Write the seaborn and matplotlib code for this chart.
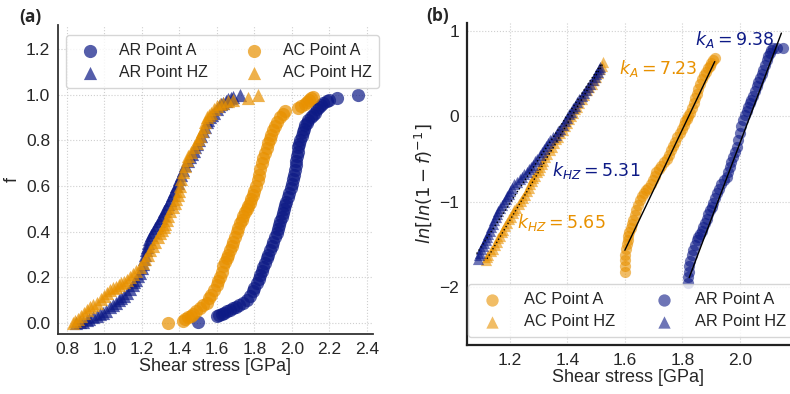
import numpy as np
import pandas as pd
import matplotlib
matplotlib.use("Agg")
import matplotlib.pyplot as plt
import seaborn as sns

# ---- panel (a): cumulative fraction f vs shear stress ----
ar_a_x = [1.499, 1.598, 1.61, 1.625, 1.64, 1.655, 1.67, 1.687, 1.703, 1.72, 1.74, 1.758,
          1.775, 1.79, 1.80, 1.812, 1.822, 1.83, 1.84, 1.847, 1.856, 1.865, 1.874, 1.883,
          1.892, 1.90, 1.91, 1.918, 1.925, 1.93, 1.938, 1.945, 1.952, 1.958, 1.965, 1.971,
          1.978, 1.985, 1.993, 2.0, 2.006, 2.012, 2.016, 2.02, 2.023, 2.025, 2.03, 2.035,
          2.04, 2.045, 2.052, 2.058, 2.065, 2.07, 2.078, 2.088, 2.10, 2.11, 2.123, 2.135,
          2.145, 2.155, 2.167, 2.185, 2.20, 2.238, 2.354]
ar_a_f = [0.003, 0.030, 0.035, 0.040, 0.045, 0.052, 0.058, 0.065, 0.072, 0.080, 0.090, 0.100,
          0.118, 0.140, 0.155, 0.174, 0.192, 0.21, 0.23, 0.247, 0.265, 0.285, 0.30, 0.32,
          0.338, 0.355, 0.375, 0.393, 0.41, 0.43, 0.448, 0.466, 0.483, 0.50, 0.515, 0.53,
          0.55, 0.57, 0.59, 0.61, 0.63, 0.65, 0.67, 0.69, 0.71, 0.73, 0.75, 0.77,
          0.785, 0.80, 0.82, 0.835, 0.85, 0.865, 0.876, 0.89, 0.90, 0.91, 0.92, 0.935,
          0.945, 0.955, 0.964, 0.972, 0.978, 0.985, 0.996]

ar_hz_x = [0.85, 0.87, 0.887, 0.905, 0.92, 0.94, 0.96, 0.975, 0.994, 1.01, 1.03, 1.045,
           1.06, 1.075, 1.09, 1.105, 1.118, 1.135, 1.15, 1.16, 1.17, 1.18, 1.19, 1.198,
           1.205, 1.21, 1.215, 1.22, 1.225, 1.232, 1.24, 1.25, 1.26, 1.27, 1.28, 1.29,
           1.30, 1.31, 1.32, 1.33, 1.34, 1.35, 1.36, 1.37, 1.38, 1.39, 1.40, 1.41,
           1.42, 1.432, 1.445, 1.455, 1.465, 1.475, 1.485, 1.495, 1.505, 1.515, 1.525, 1.535,
           1.545, 1.555, 1.565, 1.575, 1.585, 1.598, 1.61, 1.62, 1.634, 1.647, 1.66, 1.675,
           1.687, 1.723]
ar_hz_f = [0.0, 0.003, 0.005, 0.012, 0.02, 0.025, 0.03, 0.038, 0.045, 0.055, 0.07, 0.08,
           0.09, 0.10, 0.11, 0.12, 0.13, 0.148, 0.165, 0.178, 0.19, 0.205, 0.22, 0.24,
           0.26, 0.28, 0.30, 0.318, 0.335, 0.352, 0.37, 0.385, 0.40, 0.415, 0.43, 0.445,
           0.46, 0.475, 0.49, 0.505, 0.52, 0.54, 0.56, 0.58, 0.60, 0.615, 0.63, 0.65,
           0.67, 0.69, 0.71, 0.725, 0.74, 0.755, 0.77, 0.785, 0.80, 0.82, 0.84, 0.86,
           0.88, 0.89, 0.90, 0.91, 0.92, 0.935, 0.95, 0.957, 0.965, 0.972, 0.98, 0.985,
           0.99, 1.0]

ac_a_x = [1.340, 1.417, 1.43, 1.445, 1.46, 1.474, 1.49, 1.51, 1.528, 1.545, 1.558, 1.57,
          1.585, 1.598, 1.607, 1.615, 1.625, 1.634, 1.643, 1.652, 1.66, 1.67, 1.678, 1.687,
          1.696, 1.705, 1.714, 1.723, 1.732, 1.74, 1.75, 1.758, 1.767, 1.776, 1.783, 1.79,
          1.80, 1.81, 1.818, 1.825, 1.832, 1.838, 1.846, 1.855, 1.865, 1.874, 1.882, 1.89,
          1.90, 1.909, 1.92, 1.935, 1.95, 1.963, 2.034, 2.05, 2.069, 2.08, 2.09, 2.10, 2.114]
ac_a_f = [0.0, 0.01, 0.018, 0.025, 0.033, 0.042, 0.052, 0.065, 0.078, 0.09, 0.108, 0.125,
          0.145, 0.165, 0.183, 0.2, 0.225, 0.25, 0.268, 0.285, 0.30, 0.32, 0.338, 0.355,
          0.378, 0.40, 0.418, 0.437, 0.453, 0.47, 0.485, 0.50, 0.512, 0.525, 0.542, 0.56,
          0.58, 0.60, 0.625, 0.65, 0.675, 0.70, 0.722, 0.745, 0.767, 0.788, 0.806, 0.825,
          0.843, 0.861, 0.88, 0.90, 0.915, 0.927, 0.94, 0.95, 0.96, 0.968, 0.975, 0.983, 0.99]

ac_hz_x = [0.834, 0.845, 0.86, 0.875, 0.89, 0.905, 0.923, 0.94, 0.96, 0.98, 1.0, 1.015,
           1.03, 1.045, 1.06, 1.075, 1.09, 1.105, 1.118, 1.135, 1.15, 1.17, 1.19, 1.203,
           1.215, 1.23, 1.243, 1.257, 1.27, 1.283, 1.296, 1.305, 1.315, 1.323, 1.332, 1.34,
           1.35, 1.363, 1.376, 1.383, 1.39, 1.397, 1.403, 1.41, 1.42, 1.43, 1.438, 1.448,
           1.46, 1.475, 1.492, 1.50, 1.51, 1.52, 1.53, 1.538, 1.545, 1.557, 1.57, 1.585,
           1.60, 1.617, 1.634, 1.66, 1.687, 1.767, 1.82]
ac_hz_f = [0.0, 0.01, 0.02, 0.032, 0.045, 0.058, 0.07, 0.08, 0.09, 0.105, 0.12, 0.133,
           0.145, 0.152, 0.16, 0.168, 0.175, 0.182, 0.19, 0.202, 0.215, 0.23, 0.247, 0.263,
           0.28, 0.30, 0.32, 0.338, 0.355, 0.375, 0.393, 0.407, 0.42, 0.435, 0.45, 0.47,
           0.49, 0.507, 0.525, 0.542, 0.56, 0.58, 0.60, 0.63, 0.66, 0.688, 0.715, 0.733,
           0.75, 0.77, 0.788, 0.805, 0.82, 0.84, 0.86, 0.88, 0.90, 0.91, 0.92, 0.935,
           0.95, 0.958, 0.965, 0.972, 0.978, 0.985, 0.996]

# ---- panel (b): ln[ln(1-f)^-1] vs shear stress ----
b_ac_a_x = [1.60, 1.60, 1.601, 1.60, 1.603, 1.607, 1.61, 1.612, 1.616, 1.62, 1.625, 1.629,
            1.634, 1.64, 1.646, 1.652, 1.658, 1.665, 1.672, 1.68, 1.69, 1.698, 1.705, 1.71,
            1.718, 1.725, 1.735, 1.745, 1.752, 1.76, 1.768, 1.775, 1.783, 1.791, 1.798, 1.805,
            1.81, 1.815, 1.82, 1.826, 1.833, 1.84, 1.845, 1.85, 1.855, 1.861, 1.868, 1.875,
            1.882, 1.89, 1.895, 1.90, 1.906, 1.913]
b_ac_a_y = [-1.82, -1.75, -1.68, -1.62, -1.56, -1.50, -1.45, -1.40, -1.36, -1.31, -1.26, -1.22,
            -1.16, -1.10, -1.04, -0.985, -0.94, -0.90, -0.87, -0.84, -0.80, -0.75, -0.70, -0.66,
            -0.62, -0.58, -0.54, -0.50, -0.45, -0.40, -0.35, -0.30, -0.25, -0.20, -0.15, -0.10,
            -0.06, -0.03, 0.0, 0.03, 0.09, 0.15, 0.21, 0.26, 0.32, 0.38, 0.43, 0.48,
            0.52, 0.56, 0.59, 0.62, 0.65, 0.676]

b_ac_hz_x = [1.115, 1.12, 1.125, 1.133, 1.142, 1.148, 1.155, 1.16, 1.165, 1.171, 1.177, 1.183,
             1.19, 1.197, 1.205, 1.21, 1.215, 1.222, 1.23, 1.238, 1.246, 1.253, 1.26, 1.265,
             1.27, 1.276, 1.281, 1.288, 1.295, 1.30, 1.306, 1.311, 1.316, 1.323, 1.33, 1.338,
             1.345, 1.352, 1.36, 1.368, 1.375, 1.383, 1.39, 1.398, 1.405, 1.412, 1.42, 1.426,
             1.432, 1.44, 1.45, 1.458, 1.467, 1.476, 1.485, 1.492, 1.50, 1.507, 1.515, 1.52,
             1.525]
b_ac_hz_y = [-1.68, -1.65, -1.62, -1.58, -1.55, -1.51, -1.47, -1.43, -1.40, -1.36, -1.33, -1.29,
             -1.25, -1.21, -1.18, -1.14, -1.10, -1.07, -1.03, -0.99, -0.96, -0.92, -0.88, -0.84,
             -0.80, -0.76, -0.73, -0.70, -0.66, -0.63, -0.60, -0.56, -0.53, -0.48, -0.44, -0.40,
             -0.36, -0.31, -0.27, -0.24, -0.20, -0.16, -0.12, -0.08, -0.04, 0.0, 0.04, 0.08,
             0.11, 0.15, 0.20, 0.25, 0.30, 0.34, 0.38, 0.42, 0.46, 0.50, 0.55, 0.59,
             0.637]

b_ar_a_x = [1.82, 1.82, 1.822, 1.825, 1.828, 1.833, 1.838, 1.844, 1.85, 1.856, 1.862, 1.867,
            1.872, 1.878, 1.885, 1.891, 1.897, 1.902, 1.907, 1.913, 1.92, 1.927, 1.935, 1.945,
            1.954, 1.96, 1.965, 1.971, 1.977, 1.984, 1.99, 1.995, 2.0, 2.006, 2.011, 2.018,
            2.025, 2.03, 2.035, 2.04, 2.046, 2.053, 2.06, 2.065, 2.07, 2.076, 2.081, 2.088,
            2.095, 2.10, 2.105, 2.11, 2.116, 2.13, 2.151]
b_ar_a_y = [-1.95, -1.88, -1.82, -1.76, -1.70, -1.63, -1.57, -1.51, -1.45, -1.41, -1.38, -1.34,
            -1.30, -1.25, -1.20, -1.15, -1.10, -1.06, -1.02, -0.96, -0.90, -0.85, -0.80, -0.75,
            -0.71, -0.65, -0.60, -0.54, -0.48, -0.42, -0.36, -0.28, -0.20, -0.12, -0.05, 0.01,
            0.06, 0.11, 0.15, 0.19, 0.23, 0.29, 0.35, 0.40, 0.44, 0.49, 0.54, 0.60,
            0.65, 0.70, 0.74, 0.77, 0.80, 0.80, 0.79]

b_ar_hz_x = [1.09, 1.093, 1.096, 1.10, 1.105, 1.11, 1.115, 1.12, 1.125, 1.13, 1.135, 1.14,
             1.145, 1.15, 1.155, 1.16, 1.165, 1.172, 1.18, 1.185, 1.19, 1.195, 1.20, 1.207,
             1.215, 1.225, 1.235, 1.243, 1.25, 1.258, 1.265, 1.273, 1.281, 1.288, 1.295, 1.303,
             1.31, 1.318, 1.325, 1.333, 1.34, 1.35, 1.36, 1.368, 1.375, 1.383, 1.39, 1.398,
             1.405, 1.412, 1.42, 1.428, 1.435, 1.442, 1.45, 1.458, 1.465, 1.472, 1.48, 1.488,
             1.495, 1.50, 1.505, 1.509, 1.513]
b_ar_hz_y = [-1.67, -1.63, -1.60, -1.56, -1.52, -1.48, -1.45, -1.41, -1.38, -1.34, -1.30, -1.26,
             -1.22, -1.18, -1.15, -1.11, -1.08, -1.04, -1.00, -0.97, -0.94, -0.91, -0.88, -0.84,
             -0.80, -0.77, -0.74, -0.71, -0.68, -0.65, -0.62, -0.60, -0.57, -0.53, -0.50, -0.46,
             -0.42, -0.38, -0.35, -0.31, -0.28, -0.25, -0.22, -0.18, -0.15, -0.10, -0.06, -0.02,
             0.02, 0.05, 0.09, 0.12, 0.16, 0.20, 0.24, 0.27, 0.31, 0.34, 0.38, 0.42,
             0.46, 0.49, 0.52, 0.55, 0.578]

# fitted lines (end points)
fit_ac_a_x = [1.60, 1.913]
fit_ac_a_y = [-1.57, 0.637]
fit_ar_a_x = [1.824, 2.145]
fit_ar_a_y = [-1.89, 0.97]
fit_ar_hz_x = [1.084, 1.52]
fit_ar_hz_y = [-1.61, 0.62]
fit_ac_hz_x = [1.12, 1.525]
fit_ac_hz_y = [-1.67, 0.62]

NAVY = "#0d1a86"
ORANGE = "#e89100"

sns.set_style("whitegrid", {"grid.linestyle": ":", "grid.color": "#cfcfcf",
                            "axes.edgecolor": "#333333"})
plt.rcParams["font.family"] = ["Liberation Sans", "DejaVu Sans"]

fig = plt.figure(figsize=(7.9, 3.94), dpi=100)
ax1 = fig.add_axes([0.0734, 0.152, 0.3986, 0.785])
ax2 = fig.add_axes([0.591, 0.124, 0.409, 0.818])

# (a)
kw_a = dict(s=90, alpha=0.7, linewidth=0, ax=ax1)
sns.scatterplot(x=ar_a_x, y=ar_a_f, color=NAVY, marker="o", label="AR Point A", **kw_a)
sns.scatterplot(x=ar_hz_x, y=ar_hz_f, color=NAVY, marker="^", label="AR Point HZ", **kw_a)
sns.scatterplot(x=ac_a_x, y=ac_a_f, color=ORANGE, marker="o", label="AC Point A", **kw_a)
sns.scatterplot(x=ac_hz_x, y=ac_hz_f, color=ORANGE, marker="^", label="AC Point HZ", **kw_a)
ax1.set_xlim(0.752, 2.432)
ax1.set_ylim(-0.048, 1.305)
ax1.set_xticks(np.arange(0.8, 2.41, 0.2))
ax1.set_yticks(np.arange(0.0, 1.21, 0.2))
ax1.set_xlabel("Shear stress [GPa]", fontsize=13, labelpad=1)
ax1.set_ylabel("f", fontsize=13, labelpad=4)
ax1.tick_params(labelsize=12.5, pad=2)
ax1.legend(loc="upper left", bbox_to_anchor=(0.025, 0.968), borderaxespad=0,
           ncol=2, fontsize=11.5, frameon=True, edgecolor="#cccccc", borderpad=0.5,
           handletextpad=0.8, columnspacing=1.9, labelspacing=0.45)
sns.despine(ax=ax1)
for sp in ax1.spines.values():
    sp.set_linewidth(1.3)

# (b)
kw_b = dict(s=65, alpha=0.6, linewidth=0, ax=ax2)
sns.scatterplot(x=b_ac_a_x, y=b_ac_a_y, color=ORANGE, marker="o", label="AC Point A", **kw_b)
sns.scatterplot(x=b_ac_hz_x, y=b_ac_hz_y, color=ORANGE, marker="^", label="AC Point HZ", **kw_b)
sns.scatterplot(x=b_ar_a_x, y=b_ar_a_y, color=NAVY, marker="o", label="AR Point A", **kw_b)
sns.scatterplot(x=b_ar_hz_x, y=b_ar_hz_y, color=NAVY, marker="^", label="AR Point HZ", **kw_b)
sns.lineplot(x=fit_ac_a_x, y=fit_ac_a_y, ax=ax2, color="black", linewidth=1, legend=False)
sns.lineplot(x=fit_ar_a_x, y=fit_ar_a_y, ax=ax2, color="black", linewidth=1, legend=False)
sns.lineplot(x=fit_ar_hz_x, y=fit_ar_hz_y, ax=ax2, color="black", linewidth=1,
             linestyle=":", legend=False)
sns.lineplot(x=fit_ac_hz_x, y=fit_ac_hz_y, ax=ax2, color="black", linewidth=1,
             linestyle=":", legend=False)
ax2.set_xlim(1.05, 2.175)
ax2.set_ylim(-2.68, 1.09)
ax2.set_xticks([1.2, 1.4, 1.6, 1.8, 2.0])
ax2.set_yticks([-2, -1, 0, 1])
ax2.set_xlabel("Shear stress [GPa]", fontsize=13, labelpad=1)
ax2.set_ylabel(r"$ln[ln(1-f)^{-1}]$", fontsize=13, labelpad=4)
ax2.tick_params(labelsize=12.5, pad=2)
ax2.text(1.843, 0.89, r"$k_A = 9.38$", color=NAVY, fontsize=12.5, va="center")
ax2.text(1.579, 0.56, r"$k_A = 7.23$", color=ORANGE, fontsize=12.5, va="center")
ax2.text(1.345, -0.633, r"$k_{HZ} = 5.31$", color=NAVY, fontsize=12.5, va="center")
ax2.text(1.224, -1.24, r"$k_{HZ} = 5.65$", color=ORANGE, fontsize=12.5, va="center")
ax2.legend(loc="lower left", bbox_to_anchor=(0.003, 0.025), borderaxespad=0,
           ncol=2, fontsize=11.8, frameon=True, edgecolor="#cccccc", borderpad=0.5,
           handletextpad=0.9, columnspacing=2.0, labelspacing=0.4, markerscale=1.1)
sns.despine(ax=ax2)
for sp in ax2.spines.values():
    sp.set_linewidth(1.6)
    sp.set_color("#222222")

fig.text(0.024, 0.958, "(a)", fontsize=12.5, fontweight="bold", family="Open Sans",
         va="center")
fig.text(0.539, 0.96, "(b)", fontsize=12.5, fontweight="bold", family="Open Sans",
         va="center")

fig.savefig("out.png", dpi=100)
